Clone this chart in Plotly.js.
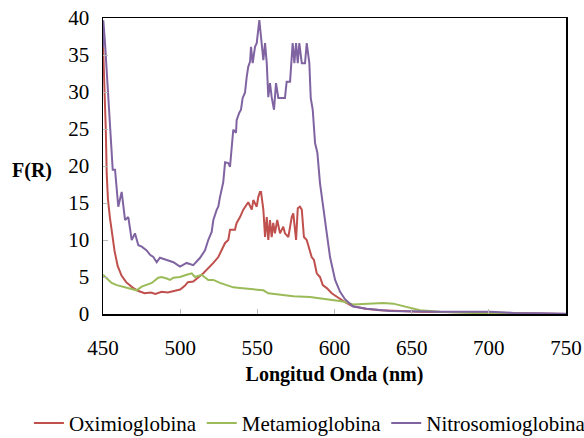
<!DOCTYPE html>
<html>
<head>
<meta charset="utf-8">
<script src="https://cdn.plot.ly/plotly-3.0.1.min.js"></script>
<style>html,body{margin:0;padding:0;background:#fff;}#chart{width:584px;height:438px;}</style>
</head>
<body>
<div id="chart"></div>
<script>
// Oximioglobina
const wlOxi = [450,451,451.8,452.4,453.2,454.5,456,457.5,459.5,462,465,469,473,477,481,484,488,492,496,500,503,505,508.5,515,521.5,524.7,529.1,531.2,532.3,535.5,536.6,538.8,540.9,544.1,546.4,547.4,549.6,550.6,551.7,552.4,553.9,555,556.1,557.1,558.2,559.3,560.3,561.4,562.9,564.7,566.8,567.9,570.1,572.3,573.3,575.1,576.2,577.6,578.8,580.2,582,584.1,585.2,586.7,588.5,590.6,592.4,595,598.2,602.5,606.8,611.3,620,629.5,655,694,720,750];
const oxi = [36.5,31,25,19,15.5,13,10.5,8.5,6.5,5.2,4.3,3.6,3.1,2.8,2.9,2.7,3.0,2.9,3.1,3.3,3.8,4.3,4.4,5.5,6.9,7.7,9.6,10.0,11.4,11.4,12.3,13.1,14.1,15.1,14.1,15.4,14.5,15.8,16.5,16.5,14.1,10.4,13.1,10.0,12.7,10.4,12.3,10.9,12.7,10.9,11.8,10.9,10.4,13.1,13.6,10.0,14.3,14.5,14.1,10.4,10.0,8.6,7.7,7.3,5.5,5.0,3.9,3.5,2.8,2.2,1.6,1.1,0.7,0.5,0.3,0.2,0.1,0.0];

// Metamioglobina
const wlMeta = [450,452.4,455.6,458.9,463.2,467.5,471.8,475.1,478.3,481.6,485.8,488,491.3,493.4,495.6,499.9,504.2,507.5,509.6,513.9,518.2,521.5,525.8,530.2,534.4,538.8,543.1,549.6,553.9,557.1,564.7,573.3,584.1,595,605.7,612,620.9,631.6,638.1,646.8,655.4,668.4,689.7,711.6,733,750];
const meta = [5.3,4.8,4.2,3.9,3.7,3.5,3.2,3.7,3.9,4.2,4.9,5.0,4.8,4.6,4.9,5.0,5.3,5.5,5.0,5.3,4.6,4.6,4.2,3.9,3.6,3.5,3.4,3.2,3.2,2.8,2.6,2.4,2.3,2.0,1.7,1.3,1.4,1.5,1.4,0.9,0.5,0.3,0.15,0.1,0.0,-0.1];

// Nitrosomioglobina
const wlNitro = [450,450.2,451.3,453.4,454.5,456.3,457.8,459.9,462.1,464.3,466.4,468.6,470.7,472.9,475.1,478.3,480.5,482.6,484.8,486.9,491.3,495.6,499.9,504.2,508.5,512.9,516.1,518.2,520.4,521.5,523.7,524.7,525.8,527.9,529.1,531.2,532.3,533.4,534.4,536.2,536.6,538.3,539.4,540.5,542,543.1,544.1,545.3,545.9,547,548.5,549.6,551.3,552.4,553.5,553.9,555,556.1,557.1,558.2,559.3,560.8,562.1,563.6,567.9,569,571.2,572.9,574,575.1,576.2,577.2,578.8,580.9,582,583.7,584.6,585.9,587.4,588.9,590.6,592.7,595,597.1,600.4,603.6,606.8,612,620.9,636,668,701,716,733,750];
const nitro = [36,39.7,36.6,29.9,25.3,19.5,19.5,14.5,16.5,12.7,13.1,10.0,10.9,9.3,9.1,8.6,8.0,7.7,7.0,7.6,7.3,7.0,6.4,6.9,6.6,7.6,8.6,10.0,11.1,12.7,14.1,14.5,15.8,17.8,20.5,20.4,19.9,22.2,24.9,24.5,26.2,27.2,27.6,29.2,29.9,32.0,33.4,34.1,36.1,33.9,36.1,36.6,39.7,37.4,35.2,34.3,36.6,33.9,29.3,31.2,29.3,27.6,31.2,29.2,29.2,31.4,31.4,36.6,33.9,36.6,33.9,36.6,33.9,33.9,36.6,33.9,29.2,27.6,23.1,21.8,17.7,14.1,10.9,7.7,4.6,3.0,2.0,1.0,0.7,0.4,0.3,0.3,0.15,0.1,0.05];

const xTicks = [450,500,550,600,650,700,750];
const yTicks = [0,5,10,15,20,25,30,35,40];

const FONT_FAMILY = 'Liberation Serif';

const traces = [
  {x: wlOxi, y: oxi, name: 'Oximioglobina', type: 'scatter', mode: 'lines', line: {color: '#C0504D', width: 2}},
  {x: wlMeta, y: meta, name: 'Metamioglobina', type: 'scatter', mode: 'lines', line: {color: '#9BBB59', width: 2}},
  {x: wlNitro, y: nitro, name: 'Nitrosomioglobina', type: 'scatter', mode: 'lines', line: {color: '#8064A2', width: 2}}
];

const layout = {
  width: 584, height: 438,
  margin: {l: 103, r: 18, t: 18, b: 124, autoexpand: false},
  paper_bgcolor: '#fff', plot_bgcolor: '#fff',
  font: {family: FONT_FAMILY, size: 21, color: '#000'},
  showlegend: true,
  legend: {orientation: 'h', x: -0.16, xanchor: 'left', y: -0.30, yanchor: 'top',
           font: {family: FONT_FAMILY, size: 21, color: '#000'}, itemwidth: 30,
           bgcolor: 'rgba(0,0,0,0)'},
  xaxis: {
    range: [450, 750], tickvals: xTicks,
    showgrid: false, zeroline: false, automargin: false,
    showline: true, linecolor: '#000', linewidth: 1.5, mirror: true,
    ticks: 'inside', ticklen: 5, tickcolor: '#bbb', tickwidth: 1,
    ticklabelstandoff: 14,
    tickfont: {family: FONT_FAMILY, size: 21, color: '#000'},
    title: {text: '<b>Longitud Onda (nm)</b>', font: {family: FONT_FAMILY, size: 20, color: '#000'}, standoff: 8}
  },
  yaxis: {
    range: [0, 40], tickvals: yTicks,
    showgrid: false, zeroline: false, automargin: false,
    showline: true, linecolor: '#000', linewidth: 1.5, mirror: true,
    ticks: 'inside', ticklen: 5, tickcolor: '#bbb', tickwidth: 1,
    ticklabelstandoff: 8,
    tickfont: {family: FONT_FAMILY, size: 21, color: '#000'}
  },
  annotations: [
    {text: '<b>F(R)</b>', xref: 'paper', yref: 'paper', x: -0.154, y: 0.486,
     xanchor: 'center', yanchor: 'middle', showarrow: false,
     font: {family: FONT_FAMILY, size: 20, color: '#000'}}
  ]
};

Plotly.newPlot('chart', traces, layout, {displayModeBar: false, staticPlot: true});
</script>
</body>
</html>
